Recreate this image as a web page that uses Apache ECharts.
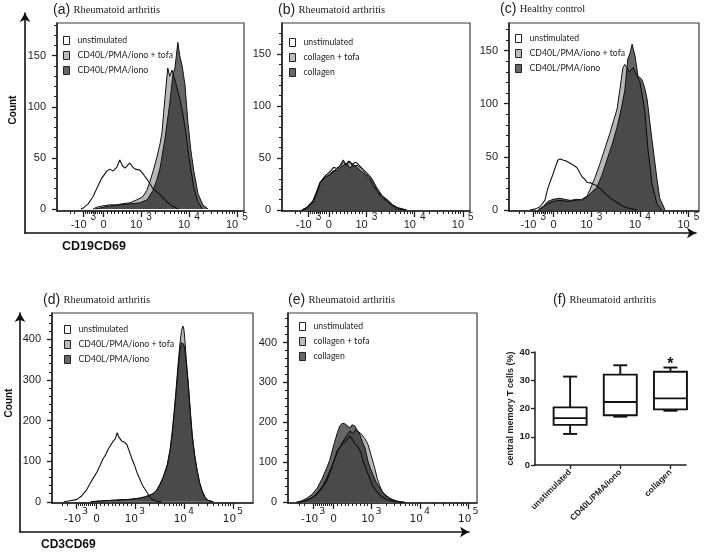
<!DOCTYPE html>
<html><head><meta charset="utf-8">
<script src="https://cdn.jsdelivr.net/npm/echarts@6/dist/echarts.min.js"></script>
<style>html,body{margin:0;padding:0;background:#fff}#c{width:709px;height:552px}</style>
</head><body><div id="c"></div>
<script>
// ---------- data (x in displayed logicle-axis units, y = count) ----------
const xTickPos = [1.8, 2.22, 3, 4, 5];
const xTickBase = ['-10', '0', '10', '10', '10'];
const xTickExp = ['3', '', '3', '4', '5'];
const yTicksTop = [0, 50, 100, 150];
const yTicksBot = [0, 100, 200, 300, 400];
const namesCD40 = ['unstimulated', 'CD40L/PMA/iono + tofa', 'CD40L/PMA/iono'];
const namesColl = ['unstimulated', 'collagen + tofa', 'collagen'];

const aUnstim = [[1.75,0],[1.8,1],[1.9,5],[2.0,12],[2.08,20],[2.18,30],[2.29,37],[2.35,39],[2.42,37],[2.5,41],[2.56,48],[2.62,42],[2.67,40],[2.77,45],[2.83,41],[2.88,39],[2.98,38],[3.05,34],[3.13,29],[3.25,20],[3.4,14],[3.54,7],[3.65,3],[3.78,0]];
const aTofa = [[2.0,0],[2.1,2],[2.2,3],[2.35,4],[2.5,4],[2.6,5],[2.77,6],[2.92,9],[3.04,12],[3.12,18],[3.19,27],[3.26,38],[3.33,50],[3.4,64],[3.44,75],[3.5,108],[3.56,138],[3.6,130],[3.65,136],[3.71,126],[3.81,108],[3.88,92],[3.95,70],[4.02,45],[4.1,22],[4.18,8],[4.28,0]];
const aStim = [[2.05,0],[2.15,1],[2.35,3],[2.56,4],[2.77,5],[2.98,6],[3.13,9],[3.25,18],[3.33,28],[3.4,40],[3.5,68],[3.6,103],[3.67,132],[3.71,138],[3.77,163],[3.81,150],[3.86,140],[3.92,121],[3.98,85],[4.04,58],[4.1,38],[4.19,15],[4.29,4],[4.4,0]];

const bUnstim = [[1.68,0],[1.77,2],[1.9,8],[1.98,17],[2.05,27],[2.15,33],[2.25,37],[2.32,41],[2.39,40],[2.46,43],[2.52,48],[2.58,43],[2.63,47],[2.7,44],[2.78,46],[2.85,43],[2.93,39],[3.0,36],[3.08,32],[3.15,27],[3.22,21],[3.32,14],[3.43,10],[3.54,5],[3.66,2],[3.84,0]];
const bTofa = [[1.66,0],[1.75,2],[1.89,9],[1.97,18],[2.04,27],[2.15,32],[2.25,34],[2.32,37],[2.39,40],[2.46,42],[2.52,46],[2.6,44],[2.66,47],[2.72,42],[2.81,43],[2.9,40],[2.98,35],[3.08,31],[3.15,25],[3.22,19],[3.32,13],[3.43,9],[3.54,5],[3.64,2],[3.8,0]];
const bStim = [[1.66,0],[1.75,2],[1.89,8],[1.97,17],[2.04,26],[2.15,31],[2.25,35],[2.32,38],[2.39,38],[2.46,41],[2.52,43],[2.6,45],[2.66,40],[2.72,44],[2.81,41],[2.9,37],[2.98,34],[3.08,29],[3.15,23],[3.22,18],[3.32,12],[3.43,8],[3.54,4],[3.64,1],[3.8,0]];

const cUnstim = [[1.73,0],[1.85,1],[1.94,3],[2.04,9],[2.1,20],[2.16,28],[2.21,34],[2.26,41],[2.31,47],[2.36,48],[2.41,47],[2.48,46],[2.56,44],[2.63,42],[2.7,40],[2.76,35],[2.81,31],[2.86,29],[2.91,26],[3.01,25],[3.1,23],[3.18,20],[3.32,14],[3.42,10],[3.53,7],[3.63,4],[3.73,2],[3.94,0]];
const cTofa = [[1.9,0],[2.0,3],[2.1,6],[2.21,8],[2.35,9],[2.5,8],[2.65,9],[2.8,10],[2.91,13],[2.97,19],[3.07,30],[3.18,44],[3.28,58],[3.38,72],[3.47,86],[3.53,95],[3.59,114],[3.65,134],[3.69,137],[3.73,136],[3.78,130],[3.86,134],[3.92,128],[4.0,121],[4.06,105],[4.1,94],[4.17,56],[4.25,25],[4.35,6],[4.45,0]];
const cStim = [[1.9,0],[2.0,3],[2.1,8],[2.21,10],[2.35,11],[2.45,10],[2.56,9],[2.7,10],[2.8,9],[2.91,12],[3.01,17],[3.11,21],[3.22,33],[3.32,47],[3.43,62],[3.53,78],[3.62,96],[3.69,113],[3.75,142],[3.8,148],[3.84,156],[3.9,145],[3.96,126],[4.04,123],[4.1,115],[4.15,104],[4.2,85],[4.25,66],[4.3,48],[4.35,30],[4.41,11],[4.52,0]];

const dUnstim = [[1.55,0],[1.65,2],[1.75,4],[1.82,6],[1.92,15],[2.02,30],[2.1,48],[2.17,62],[2.23,74],[2.3,92],[2.35,106],[2.4,115],[2.45,128],[2.5,138],[2.55,148],[2.6,155],[2.64,170],[2.67,160],[2.7,157],[2.73,150],[2.76,154],[2.8,146],[2.84,140],[2.9,120],[2.94,106],[3.0,88],[3.04,73],[3.1,56],[3.15,42],[3.2,32],[3.25,23],[3.3,13],[3.35,6],[3.45,1],[3.55,0]];
const dTofa = [[2.1,0],[2.3,2],[2.6,4],[2.9,6],[3.1,9],[3.2,12],[3.3,16],[3.37,20],[3.44,28],[3.51,43],[3.58,62],[3.66,91],[3.72,130],[3.76,170],[3.8,220],[3.84,275],[3.88,335],[3.92,390],[3.95,420],[3.98,433],[4.0,425],[4.02,400],[4.05,350],[4.09,292],[4.13,225],[4.17,165],[4.22,115],[4.27,78],[4.32,48],[4.37,28],[4.43,12],[4.49,4],[4.6,0]];
const dStim = [[2.1,0],[2.3,2],[2.6,4],[2.9,6],[3.1,9],[3.2,12],[3.3,16],[3.37,20],[3.44,27],[3.51,42],[3.58,60],[3.66,88],[3.72,126],[3.76,165],[3.8,214],[3.84,268],[3.88,325],[3.92,375],[3.95,392],[3.98,396],[4.0,388],[4.02,372],[4.05,340],[4.09,288],[4.13,222],[4.17,163],[4.22,113],[4.27,77],[4.32,47],[4.37,27],[4.43,11],[4.49,3],[4.6,0]];

const eUnstim = [[1.5,0],[1.62,3],[1.75,9],[1.88,20],[1.98,35],[2.08,53],[2.18,85],[2.29,128],[2.36,140],[2.46,153],[2.52,160],[2.56,166],[2.62,155],[2.66,146],[2.72,140],[2.78,125],[2.83,103],[2.9,80],[2.96,62],[3.03,40],[3.1,28],[3.2,15],[3.32,6],[3.45,2],[3.6,0]];
const eTofa = [[1.5,0],[1.6,2],[1.7,6],[1.8,13],[1.9,25],[2.0,42],[2.1,66],[2.2,95],[2.3,125],[2.4,150],[2.5,168],[2.56,178],[2.62,172],[2.68,182],[2.74,176],[2.8,170],[2.86,160],[2.93,145],[3.01,111],[3.07,85],[3.12,60],[3.17,42],[3.22,28],[3.3,16],[3.4,8],[3.55,2],[3.7,0]];
const eStim = [[1.45,0],[1.55,3],[1.67,10],[1.78,20],[1.88,35],[1.98,58],[2.08,86],[2.14,105],[2.19,128],[2.24,150],[2.29,171],[2.35,191],[2.4,198],[2.46,196],[2.5,201],[2.56,186],[2.6,194],[2.66,191],[2.71,180],[2.76,171],[2.82,150],[2.87,136],[2.93,103],[2.98,85],[3.03,70],[3.1,50],[3.18,35],[3.25,22],[3.38,10],[3.5,3],[3.65,0]];

const fCats = ['unstimulated', 'CD40L/PMA/iono', 'collagen'];
const fMin = [11.0, 17.1, 19.2];
const fQ1 = [14.2, 17.6, 19.7];
const fMed = [16.6, 22.3, 23.6];
const fQ3 = [20.4, 32.0, 33.0];
const fMax = [31.3, 35.3, 34.5];
const fStars = ['', '', '*'];

// ---------- layout ----------
const panels = [
  {title:'(a)', sub:'Rheumatoid arthritis', names:namesCD40, data:[aUnstim,aTofa,aStim], grid:{left:57,top:23,width:187,height:188}, x:[1.25,5.15], y:[-2,182], yTicks:yTicksTop, yStep:10, gap:true, legend:[63,36], tpos:[53,10]},
  {title:'(b)', sub:'Rheumatoid arthritis', names:namesColl, data:[bUnstim,bTofa,bStim], grid:{left:282,top:23,width:188,height:188}, x:[1.25,5.15], y:[-1,180], yTicks:yTicksTop, yStep:10, gap:true, legend:[289,38], tpos:[278,10]},
  {title:'(c)', sub:'Healthy control', names:namesCD40, data:[cUnstim,cTofa,cStim], grid:{left:509,top:23,width:190,height:188}, x:[1.3,5.22], y:[-1,176], yTicks:yTicksTop, yStep:10, gap:true, legend:[515,34], tpos:[500,9]},
  {title:'(d)', sub:'Rheumatoid arthritis', names:namesCD40, data:[dUnstim,dTofa,dStim], grid:{left:52,top:313,width:201,height:190}, x:[1.31,5.41], y:[-3,465], yTicks:yTicksBot, yStep:20, gap:false, legend:[64,325], tpos:[43,300]},
  {title:'(e)', sub:'Rheumatoid arthritis', names:namesColl, data:[eUnstim,eTofa,eStim], grid:{left:288,top:313,width:189,height:190}, x:[1.28,5.18], y:[-2,474], yTicks:yTicksBot, yStep:20, gap:false, legend:[299,322], tpos:[288,300]}
];
const legendFill = ['#ffffff', '#bdbdbd', '#666666'];
const INK = '#1e1e1e';

const xMinor = [1.52, 1.62];
for (let k = 3; k <= 4; k++) for (let m = 2; m <= 9; m++) xMinor.push(k + Math.log10(m));
for (let m = 1; m <= 9; m++) {
  xMinor.push(xTickPos[1] + m / 10 * (xTickPos[2] - xTickPos[1]));
  xMinor.push(xTickPos[1] - m / 10 * (xTickPos[1] - xTickPos[0]));
}

function xFmt(v) {
  const i = xTickPos.findIndex(p => Math.abs(p - v) < 1e-6);
  if (i < 0) return '';
  return xTickExp[i] ? '{b|' + xTickBase[i] + '}{s|' + xTickExp[i] + '}' : '{b|' + xTickBase[i] + '}';
}
function rich(gap, fam, fs) {
  return {
    b: {fontSize: fs, fontFamily: fam, color: INK, padding: [7, 0, 0, 0]},
    s: {fontSize: fs - 1, fontFamily: fam, color: INK, padding: [0, 0, 8, gap]}
  };
}

const grids = [], xAxes = [], yAxes = [], series = [], legends = [], graphics = [];

panels.forEach((p, i) => {
  grids.push(Object.assign({show: true, borderColor: '#3a3a3a', borderWidth: 1.2, backgroundColor: '#fff'}, p.grid));
  const fam = p.gap ? 'Liberation Sans' : 'DejaVu Sans';
  const xi = xAxes.length;
  xAxes.push({gridIndex: i, type: 'value', min: p.x[0], max: p.x[1], position: 'bottom',
    axisLine: {show: true, onZero: false, lineStyle: {color: INK, width: 1.5}},
    axisTick: {show: true, customValues: xTickPos, length: 6, lineStyle: {color: INK, width: 1.3}},
    axisLabel: {show: true, customValues: xTickPos, formatter: xFmt, rich: rich(p.gap ? 4 : 1, fam, p.gap ? 11 : 10.5), margin: p.gap ? 1 : 4},
    splitLine: {show: false}});
  xAxes.push({gridIndex: i, type: 'value', min: p.x[0], max: p.x[1], position: 'bottom',
    axisLine: {show: false, onZero: false},
    axisTick: {show: true, customValues: xMinor, length: 3, lineStyle: {color: INK, width: 1}},
    axisLabel: {show: false}, splitLine: {show: false}});
  const yMinor = [];
  for (let v = p.yStep; v < p.y[1]; v += p.yStep) if (p.yTicks.indexOf(v) < 0) yMinor.push(v);
  const yi = yAxes.length;
  yAxes.push({gridIndex: i, type: 'value', min: p.y[0], max: p.y[1], position: 'left',
    axisLine: {show: true, onZero: false, lineStyle: {color: INK, width: 1.5}},
    axisTick: {show: true, customValues: p.yTicks, length: 5, lineStyle: {color: INK, width: 1.3}},
    axisLabel: {show: true, customValues: p.yTicks, fontSize: 11, fontFamily: 'Liberation Sans', color: INK, margin: 11},
    splitLine: {show: false}});
  yAxes.push({gridIndex: i, type: 'value', min: p.y[0], max: p.y[1], position: 'left',
    axisLine: {show: false, onZero: false},
    axisTick: {show: true, customValues: yMinor, length: 3, lineStyle: {color: INK, width: 1}},
    axisLabel: {show: false}, splitLine: {show: false}});

  const [u, t, s] = p.data;
  const base = {type: 'line', xAxisIndex: xi, yAxisIndex: yi, symbol: 'none', showSymbol: false, silent: true, animation: false};
  series.push(Object.assign({}, base, {name: p.names[0], data: u, z: 2, lineStyle: {width: 0, opacity: 0}, areaStyle: {color: '#ffffff', opacity: 1}}));
  series.push(Object.assign({}, base, {name: p.names[1], data: t, z: 3, lineStyle: {color: '#111', width: 1}, areaStyle: {color: 'rgba(0,0,0,0.28)', opacity: 1}}));
  series.push(Object.assign({}, base, {name: p.names[2], data: s, z: 4, lineStyle: {color: '#111', width: 1}, areaStyle: {color: 'rgba(0,0,0,0.6)', opacity: 1}}));
  series.push(Object.assign({}, base, {name: p.names[0], data: u, z: 5, lineStyle: {color: '#111', width: 1.1}}));

  legends.push({left: p.legend[0], top: p.legend[1], orient: 'vertical', icon: 'rect', itemWidth: 6, itemHeight: 8, itemGap: 6,
    selectedMode: false, padding: 0,
    textStyle: {fontFamily: 'Lato', fontSize: 8.7, color: '#222', padding: [0, 0, 0, 3]},
    data: p.names.map((n, k) => ({name: n, itemStyle: {color: legendFill[k], borderColor: '#222', borderWidth: 1}}))});

  graphics.push({type: 'text', x: p.tpos[0], y: p.tpos[1], style: {
    text: '{p|' + p.title + '} {t|' + p.sub + '}', verticalAlign: 'middle',
    rich: {p: {fontFamily: 'Liberation Sans', fontSize: 14, fill: '#222'}, t: {fontFamily: 'Liberation Serif', fontSize: 10.5, fill: '#222'}}}});
});

// panel (f): box plot
const fG = grids.length;
grids.push({left: 535, top: 352, width: 151, height: 113, show: false});
const fX = xAxes.length;
xAxes.push({gridIndex: fG, type: 'value', min: -0.7, max: 2.31,
  axisLine: {show: true, onZero: false, lineStyle: {color: INK, width: 1.5}},
  axisTick: {show: true, customValues: [0, 1, 2], length: 4, lineStyle: {color: INK, width: 1.3}},
  axisLabel: {show: true, customValues: [0, 1, 2], rotate: 45, formatter: v => fCats[Math.round(v)], fontSize: 8.5, fontWeight: 'bold', fontFamily: 'Liberation Sans', color: INK, margin: 6},
  splitLine: {show: false}});
const fY = yAxes.length;
yAxes.push({gridIndex: fG, type: 'value', min: 0, max: 40, interval: 10,
  axisLine: {show: true, onZero: false, lineStyle: {color: INK, width: 1.5}},
  axisTick: {show: true, length: 4, lineStyle: {color: INK, width: 1.3}},
  axisLabel: {fontSize: 9.5, fontWeight: 'bold', fontFamily: 'Liberation Sans', color: INK, margin: 5},
  splitLine: {show: false},
  name: 'central memory T cells (%)', nameLocation: 'middle', nameGap: 20,
  nameTextStyle: {fontSize: 9, fontWeight: 'bold', fontFamily: 'Liberation Sans', color: INK}});
series.push({type: 'custom', xAxisIndex: fX, yAxisIndex: fY, silent: true, animation: false, z: 5, clip: false,
  data: fCats.map((c, i) => [i, fMin[i], fQ1[i], fMed[i], fQ3[i], fMax[i]]),
  encode: {x: 0, y: [1, 2, 3, 4, 5]},
  renderItem: function (params, api) {
    const i = api.value(0);
    const pt = v => api.coord([i, v]);
    const cx = pt(api.value(3))[0];
    const yMin = pt(api.value(1))[1], yQ1 = pt(api.value(2))[1], yMed = pt(api.value(3))[1], yQ3 = pt(api.value(4))[1], yMax = pt(api.value(5))[1];
    const hw = 16.5, cw = 7;
    const ls = {stroke: '#111', lineWidth: 1.9, fill: null};
    const ch = [
      {type: 'line', shape: {x1: cx, y1: yQ3, x2: cx, y2: yMax}, style: ls},
      {type: 'line', shape: {x1: cx - cw, y1: yMax, x2: cx + cw, y2: yMax}, style: ls},
      {type: 'line', shape: {x1: cx, y1: yQ1, x2: cx, y2: yMin}, style: ls},
      {type: 'line', shape: {x1: cx - cw, y1: yMin, x2: cx + cw, y2: yMin}, style: ls},
      {type: 'rect', shape: {x: cx - hw, y: yQ3, width: 2 * hw, height: yQ1 - yQ3}, style: {fill: '#fff', stroke: '#111', lineWidth: 1.9}},
      {type: 'line', shape: {x1: cx - hw, y1: yMed, x2: cx + hw, y2: yMed}, style: ls}
    ];
    const st = fStars[i];
    if (st) ch.push({type: 'text', x: cx, y: pt(api.value(5) + 1.2)[1], style: {text: st, fontSize: 16, fontWeight: 'bold', fontFamily: 'Liberation Sans', fill: '#111', align: 'center', verticalAlign: 'middle'}});
    return {type: 'group', children: ch};
  }});
graphics.push({type: 'text', x: 553, y: 300, style: {
  text: '{p|(f)} {t|Rheumatoid arthritis}', verticalAlign: 'middle',
  rich: {p: {fontFamily: 'Liberation Sans', fontSize: 14, fill: '#222'}, t: {fontFamily: 'Liberation Serif', fontSize: 10.5, fill: '#222'}}}});

// outer arrow axes
function arrowGrid(g) {
  const gi = grids.length;
  grids.push(Object.assign({show: false}, g));
  const ax = {gridIndex: gi, type: 'value', min: 0, max: 1,
    axisLine: {show: true, symbol: ['none', 'arrow'], symbolSize: [8, 9], lineStyle: {color: '#111', width: 1.6}},
    axisTick: {show: false}, axisLabel: {show: false}, splitLine: {show: false}};
  xAxes.push(Object.assign({}, ax));
  yAxes.push(Object.assign({}, ax));
}
arrowGrid({left: 25, top: 13, width: 671, height: 220});
arrowGrid({left: 20, top: 313, width: 449, height: 219});

// axis titles
function label(txt, x, y, rot, size) {
  graphics.push({type: 'text', x: x, y: y, rotation: rot, style: {text: txt, fontSize: size, fontWeight: 'bold', fontFamily: 'Liberation Sans', fill: '#111', align: rot ? 'center' : 'left', verticalAlign: 'middle'}});
}
label('Count', 13, 110, Math.PI / 2, 10);
label('Count', 9, 403, Math.PI / 2, 10);
label('CD19CD69', 62, 247, 0, 12.5);
label('CD3CD69', 41, 545, 0, 12);

const chart = echarts.init(document.getElementById('c'), null, {renderer: 'canvas'});
chart.setOption({
  animation: false,
  backgroundColor: '#fff',
  textStyle: {fontFamily: 'Liberation Sans'},
  grid: grids, xAxis: xAxes, yAxis: yAxes, series: series, legend: legends, graphic: graphics
});
</script>
</body></html>
